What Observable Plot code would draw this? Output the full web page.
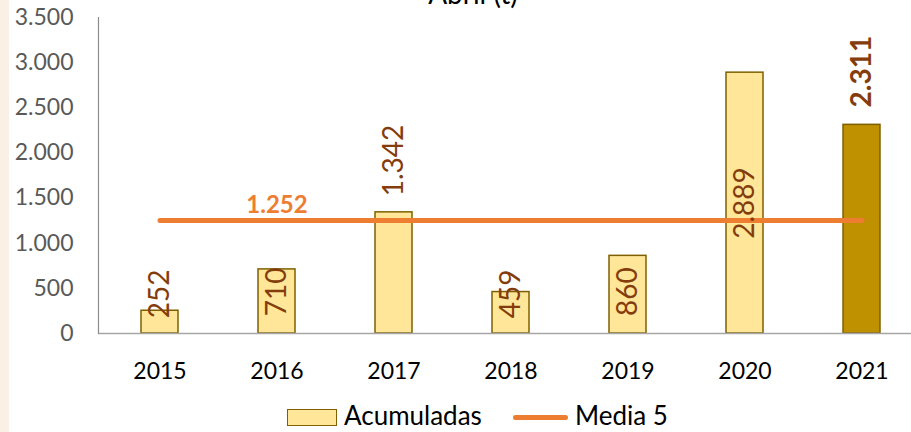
<!DOCTYPE html>
<html>
<head>
<meta charset="utf-8">
<script src="https://cdn.jsdelivr.net/npm/d3@7"></script>
<script src="https://cdn.jsdelivr.net/npm/@observablehq/plot@0.6"></script>
<style>
  html, body { margin: 0; padding: 0; background: #fff; }
  body { width: 911px; height: 432px; overflow: hidden; position: relative; font-family: Lato, sans-serif; }
  #stripe { position: absolute; left: 0; top: 0; width: 9px; height: 432px; background: #FBF0E6; }
  #chart { position: absolute; left: 0; top: 0; }
  #title { position: absolute; left: 0; width: 946px; top: -21px; text-align: center; font-size: 28px; line-height: 28px; color: #000; }
  .lg { position: absolute; }
  .lt { position: absolute; top: 402px; font-size: 26px; line-height: 26px; color: #000; white-space: nowrap; }
</style>
</head>
<body>
<div id="stripe"></div>
<div id="chart"></div>
<div id="title">Abril (t)</div>
<div class="lg" style="left:287px;top:409px;width:48px;height:15px;background:#FFE699;border:1.5px solid #7F6000;"></div>
<div class="lt" style="left:344px;">Acumuladas</div>
<div class="lg" style="left:513px;top:415px;width:55px;height:5px;background:#ED7D31;border-radius:3px;"></div>
<div class="lt" style="left:575px;">Media 5</div>
<script>
// ---- data ----
const years = ["2015", "2016", "2017", "2018", "2019", "2020", "2021"];
const acumuladas = [252, 710, 1342, 459, 860, 2889, 2311];
const media5 = 1252;
const yTicks = [0, 500, 1000, 1500, 2000, 2500, 3000, 3500];
// label anchor (centre of rotated value label) in data units, as placed in the original
const labelAt = [440, 460, 1916, 440, 465, 1445, 2900];

const locale = d3.formatLocale({decimal: ",", thousands: ".", grouping: [3], currency: ["", " €"]});
const fmt = locale.format(",d");

const rows = years.map((year, i) => ({
  year, value: acumuladas[i], labelAt: labelAt[i], current: i === years.length - 1
}));

const chart = Plot.plot({
  width: 911,
  height: 432,
  marginTop: 17,
  marginBottom: 99,
  marginLeft: 98,
  marginRight: 0,
  x: {domain: years, range: [98, 922], paddingInner: 0.685, paddingOuter: 0.3425, align: 0.5, label: null},
  y: {domain: [0, 3500], label: null},
  color: {type: "identity"},
  style: {fontFamily: "Lato, sans-serif", fontSize: "23px", background: "transparent", overflow: "visible"},
  marks: [
    Plot.axisY({ticks: yTicks, tickSize: 0, tickPadding: 25, tickFormat: fmt, fill: "#595959", fontSize: 23, label: null}),
    Plot.axisX({tickSize: 0, tickPadding: 29, fill: "#000", fontSize: 23, label: null}),
    Plot.barY(rows, {
      x: "year", y: "value",
      fill: d => d.current ? "#BF9000" : "#FFE699",
      stroke: "#7F6000", strokeWidth: 1.5
    }),
    Plot.ruleY([0], {stroke: "#A6A6A6", strokeWidth: 1.5}),
    Plot.frame({anchor: "left", stroke: "#8C8C8C", strokeWidth: 1.2}),
    Plot.lineY(rows, {x: "year", y: () => media5, stroke: "#ED7D31", strokeWidth: 5, strokeLinecap: "round"}),
    Plot.text(rows.filter(d => !d.current), {
      x: "year", y: "labelAt", text: d => fmt(d.value), rotate: -90,
      fill: "#843C0C", fontSize: 28, textAnchor: "middle", lineAnchor: "middle"
    }),
    Plot.text(rows.filter(d => d.current), {
      x: "year", y: "labelAt", text: d => fmt(d.value), rotate: -90,
      fill: "#843C0C", fontSize: 28, fontWeight: "bold", textAnchor: "middle", lineAnchor: "middle"
    }),
    Plot.text([media5], {
      x: () => years[1], y: d => d, dy: -15, text: d => fmt(d),
      fill: "#ED7D31", fontSize: 24, fontWeight: "bold", lineAnchor: "middle"
    })
  ]
});
document.getElementById("chart").appendChild(chart);
</script>
</body>
</html>
